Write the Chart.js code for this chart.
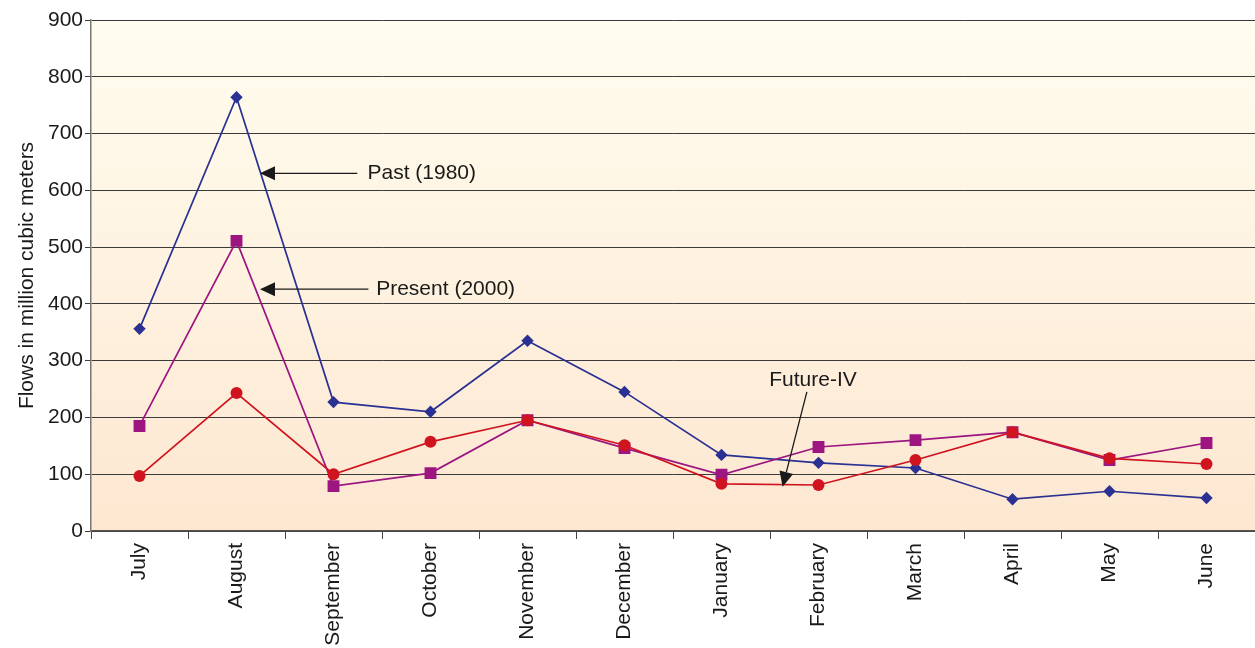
<!DOCTYPE html>
<html>
<head>
<meta charset="utf-8">
<script src="https://cdn.jsdelivr.net/npm/chart.js@4"></script>
<style>
  html, body { margin: 0; padding: 0; background: #ffffff; }
  #wrap { width: 1255px; height: 648px; }
</style>
</head>
<body>
<div id="wrap"><canvas id="c" width="1255" height="648"></canvas></div>
<script>
// Monthly river flows (million cubic meters), hydrological year July–June
const months = ['July', 'August', 'September', 'October', 'November', 'December',
                'January', 'February', 'March', 'April', 'May', 'June'];
const past1980 = [356, 764, 227, 210, 335, 245, 134, 120, 111, 56, 70, 58];
const present2000 = [185, 511, 79, 102, 195, 146, 99, 148, 160, 174, 125, 155];
const futureIV = [97, 243, 100, 157, 195, 151, 83, 81, 125, 174, 128, 118];
const yTicks = [0, 100, 200, 300, 400, 500, 600, 700, 800, 900];

// Callout labels: arrow tip/tail and text anchor given as (category index, flow value)
const callouts = [
  { text: 'Past (1980)',    tip: [1.242, 630], tail: [2.245, 630], textAt: [2.35, 630] },
  { text: 'Present (2000)', tip: [1.242, 426], tail: [2.36, 426],  textAt: [2.44, 426] },
  { text: 'Future-IV',      tip: [6.63, 78],   tail: [6.88, 245],  textAt: [6.943, 266], center: true }
];

const FONT = '"Liberation Sans", Arial, sans-serif';

const bgPlugin = {
  id: 'plotBackground',
  beforeDraw(chart) {
    const { ctx, chartArea: a } = chart;
    const g = ctx.createLinearGradient(0, a.top, 0, a.bottom);
    g.addColorStop(0, '#fffdef');
    g.addColorStop(1, '#fde7d1');
    ctx.save();
    ctx.fillStyle = g;
    ctx.fillRect(a.left, a.top, a.right - a.left, a.bottom - a.top);
    ctx.restore();
  }
};

const calloutPlugin = {
  id: 'callouts',
  afterDatasetsDraw(chart) {
    const { ctx, scales: { x, y } } = chart;
    ctx.save();
    ctx.strokeStyle = '#1a1a1a';
    ctx.fillStyle = '#1a1a1a';
    ctx.lineWidth = 1.3;
    ctx.font = '21px ' + FONT;
    callouts.forEach(c => {
      const tx = x.getPixelForValue(c.tip[0]), ty = y.getPixelForValue(c.tip[1]);
      const sx = x.getPixelForValue(c.tail[0]), sy = y.getPixelForValue(c.tail[1]);
      const ang = Math.atan2(ty - sy, tx - sx);
      const headLen = 15, headW = 7;
      const bx = tx - headLen * Math.cos(ang), by = ty - headLen * Math.sin(ang);
      ctx.beginPath();
      ctx.moveTo(sx, sy);
      ctx.lineTo(bx, by);
      ctx.stroke();
      ctx.beginPath();
      ctx.moveTo(tx, ty);
      ctx.lineTo(bx + headW * Math.sin(ang), by - headW * Math.cos(ang));
      ctx.lineTo(bx - headW * Math.sin(ang), by + headW * Math.cos(ang));
      ctx.closePath();
      ctx.fill();
      const lx = x.getPixelForValue(c.textAt[0]), ly = y.getPixelForValue(c.textAt[1]);
      ctx.textAlign = c.center ? 'center' : 'left';
      ctx.textBaseline = 'middle';
      ctx.fillText(c.text, lx, ly);
    });
    ctx.restore();
  }
};

const ds = (label, data, color, style, radius) => ({
  label, data,
  borderColor: color,
  backgroundColor: color,
  borderWidth: 1.7,
  pointStyle: style,
  pointRadius: radius,
  pointHoverRadius: radius,
  pointBorderWidth: 0,
  tension: 0
});

new Chart(document.getElementById('c'), {
  type: 'line',
  data: {
    labels: months,
    datasets: [
      ds('Future-IV', futureIV, '#d0141f', 'circle', 6),
      ds('Present (2000)', present2000, '#9c1580', 'rect', 8.4),
      ds('Past (1980)', past1980, '#2a3193', 'rectRot', 6.2)
    ]
  },
  options: {
    responsive: false,
    animation: false,
    layout: { autoPadding: false, padding: { top: 20, right: 0, left: 0, bottom: 0 } },
    plugins: { legend: { display: false }, tooltip: { enabled: false } },
    scales: {
      x: {
        offset: true,
        grid: { offset: true, drawOnChartArea: false, color: '#444', tickLength: 8 },
        border: { color: '#555', width: 1.5 },
        ticks: {
          color: '#1a1a1a', maxRotation: 90, minRotation: 90, padding: 4, autoSkip: false,
          font: { family: FONT, size: 21 }
        },
        afterFit(axis) {
          axis.height = 117;
          axis.paddingLeft = 0;
          axis.paddingRight = 0;
        }
      },
      y: {
        min: 0, max: 900,
        afterBuildTicks(axis) { axis.ticks = yTicks.map(v => ({ value: v })); },
        grid: { color: '#3a3a3a', lineWidth: 1, tickLength: 6 },
        border: { color: '#777', width: 1.5 },
        ticks: {
          color: '#1a1a1a', padding: 2,
          font: { family: FONT, size: 21 }
        },
        title: {
          display: true, text: 'Flows in million cubic meters', color: '#1a1a1a',
          font: { family: FONT, size: 21 },
          padding: { top: 15, bottom: 0 }
        },
        afterFit(axis) {
          axis.width = 91;
          axis.paddingTop = 0;
          axis.paddingBottom = 0;
        }
      }
    }
  },
  plugins: [bgPlugin, calloutPlugin]
});
</script>
</body>
</html>
